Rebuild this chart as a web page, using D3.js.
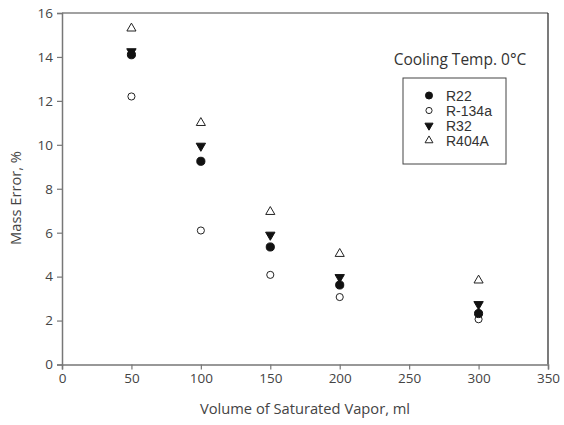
<!DOCTYPE html>
<html><head><meta charset="utf-8">
<script src="https://cdn.jsdelivr.net/npm/d3@7"></script>
<style>body{margin:0;background:#fff}svg{display:block}</style>
</head><body>
<svg id="c" width="564" height="425"></svg>
<script>
const volumes = [50, 100, 150, 200, 300];
const R22 = [14.1, 9.25, 5.35, 3.62, 2.32];
const R134a = [12.2, 6.1, 4.08, 3.07, 2.06];
const R32 = [14.25, 9.95, 5.9, 3.97, 2.74];
const R404A = [15.3, 11.0, 6.95, 5.04, 3.83];
const seriesNames = ["R22", "R-134a", "R32", "R404A"];
const xTicks = [0, 50, 100, 150, 200, 250, 300, 350];
const yTicks = [0, 2, 4, 6, 8, 10, 12, 14, 16];
const title = "Cooling Temp. 0°C";
const xLabel = "Volume of Saturated Vapor, ml";
const yLabel = "Mass Error, %";

const svg = d3.select("#c");
const L = 62, R = 548, T = 13, B = 364.5;
const x = d3.scaleLinear().domain([0, 350]).range([L, R]);
const y = d3.scaleLinear().domain([0, 16]).range([B, T]);
const font = "'Open Sans', 'Noto Sans', sans-serif";

// frame top/right
svg.append("line").attr("x1", L).attr("x2", R).attr("y1", T).attr("y2", T).attr("stroke", "#444").attr("stroke-width", 1.2);
svg.append("line").attr("x1", R).attr("x2", R).attr("y1", T).attr("y2", B).attr("stroke", "#222").attr("stroke-width", 1.2);

const xa = svg.append("g").attr("transform", `translate(0,${B})`)
  .call(d3.axisBottom(x).tickValues(xTicks).tickSize(5).tickPadding(4));
const ya = svg.append("g").attr("transform", `translate(${L},0)`)
  .call(d3.axisLeft(y).tickValues(yTicks).tickSize(5).tickPadding(4));
[xa, ya].forEach(g => {
  g.select(".domain").attr("stroke", "#777").attr("stroke-width", 1.5);
  g.selectAll(".tick line").attr("stroke", "#777").attr("stroke-width", 1.2);
  g.selectAll("text").attr("font-family", font).attr("font-size", 13.5).attr("fill", "#444");
});

svg.append("text").attr("x", 305).attr("y", 414).attr("text-anchor", "middle")
  .attr("font-family", font).attr("font-size", 14.7).attr("fill", "#444").text(xLabel);
svg.append("text").attr("transform", "translate(21,198) rotate(-90)").attr("text-anchor", "middle")
  .attr("font-family", font).attr("font-size", 14.7).attr("fill", "#444").text(yLabel);

const sym = {
  "R22": {type: d3.symbolCircle, size: 52, fill: "#111", stroke: "#111"},
  "R-134a": {type: d3.symbolCircle, size: 40, fill: "#fff", stroke: "#222"},
  "R32": {type: d3.symbolTriangle, size: 38, fill: "#111", stroke: "#111", rot: 180},
  "R404A": {type: d3.symbolTriangle, size: 36, fill: "#fff", stroke: "#222", rot: 0}
};
const data = {"R22": R22, "R-134a": R134a, "R32": R32, "R404A": R404A};
const drawOrder = ["R404A", "R-134a", "R32", "R22"];

function mark(g, name, cx, cy, k) {
  const s = sym[name];
  g.append("path").attr("d", d3.symbol().type(s.type).size(s.size * (k || 1))())
    .attr("transform", `translate(${cx},${cy}) rotate(${s.rot || 0})`)
    .attr("fill", s.fill).attr("stroke", s.stroke).attr("stroke-width", 1);
}
const pts = svg.append("g");
drawOrder.forEach(name => {
  data[name].forEach((v, i) => mark(pts, name, x(volumes[i]), y(v)));
});

// legend
svg.append("text").attr("x", 460).attr("y", 65).attr("text-anchor", "middle")
  .attr("font-family", font).attr("font-size", 15.5).attr("fill", "#333").text(title);
svg.append("rect").attr("x", 403).attr("y", 78).attr("width", 103).attr("height", 86)
  .attr("fill", "#fff").attr("stroke", "#444").attr("stroke-width", 1);
const lg = svg.append("g");
seriesNames.forEach((name, i) => {
  const cy = 95.5 + i * 15;
  mark(lg, name, 429, cy, 0.75);
  lg.append("text").attr("x", 446).attr("y", cy + 5)
    .attr("font-family", "'Liberation Sans', Arial, sans-serif").attr("font-size", 14).attr("fill", "#333").text(name);
});
</script>
</body></html>
